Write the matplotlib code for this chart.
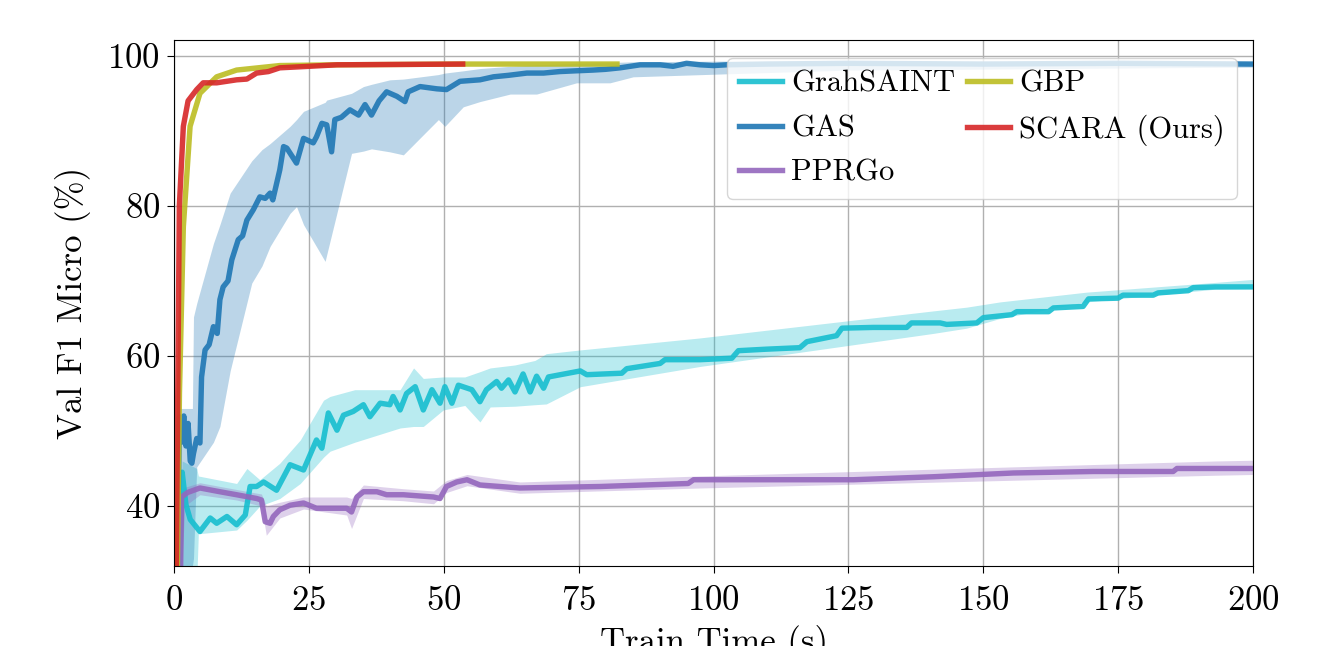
import numpy as np
import matplotlib
matplotlib.use("Agg")
import matplotlib.pyplot as plt

plt.rcParams['font.family'] = ['cmr10', 'DejaVu Serif']
plt.rcParams['axes.formatter.use_mathtext'] = True
plt.rcParams['mathtext.fontset'] = 'cm'

# ---- data (train time in s, val F1 micro in %) ----
saint_x = [1.0, 1.5, 2.2, 3.0, 4.8, 6.7, 7.9, 9.8, 11.6, 13.2, 14.1, 15.3, 16.6, 19.0, 21.5,
           24.0, 26.4, 27.4, 28.6, 30.2, 31.4, 33.2, 35.1, 36.3, 38.2, 40.0, 40.6, 41.9,
           43.1, 44.7, 46.2, 47.8, 49.3, 50.2, 51.5, 52.7, 55.2, 56.7, 57.9, 59.8, 60.7,
           62.0, 63.2, 64.7, 66.0, 67.2, 68.5, 69.4, 75.3, 76.5, 83.0, 83.9, 90.1, 91.0,
           97.5, 103.4, 104.6, 109.8, 116.0, 117.3, 122.8, 123.8, 129.6, 135.8, 136.7,
           142.0, 143.2, 148.8, 150.0, 155.3, 156.2, 162.1, 163.0, 168.5, 169.5, 175.0,
           175.9, 181.5, 182.4, 188.0, 188.9, 193.0, 200.0]
saint_y = [31.0, 44.5, 40.2, 38.2, 36.6, 38.4, 37.7, 38.6, 37.5, 38.8, 42.6, 42.6, 43.2, 42.1,
           45.5, 44.8, 48.8, 47.7, 52.4, 50.1, 52.1, 52.6, 53.5, 51.9, 53.7, 53.5, 54.6, 52.8,
           55.0, 55.9, 52.8, 55.5, 53.7, 55.9, 53.7, 56.1, 55.5, 53.9, 55.5, 56.6, 55.7,
           56.8, 55.2, 57.6, 55.2, 57.3, 55.7, 57.2, 58.0, 57.5, 57.7, 58.3, 59.0, 59.5,
           59.5, 59.7, 60.7, 60.9, 61.1, 61.9, 62.7, 63.7, 63.8, 63.8, 64.4,
           64.4, 64.2, 64.4, 65.1, 65.5, 65.9, 65.9, 66.4, 66.6, 67.6, 67.7,
           68.1, 68.1, 68.4, 68.7, 69.1, 69.2, 69.2]
saint_band_x = [0.8, 1.5, 4.2, 4.5, 11.6, 13.5, 15.9, 19.6, 23.4, 27.7, 28.9, 33.5, 41.9,
                44.4, 46.2, 49.9, 53.9, 56.7, 58.6, 63.2, 66.9, 69.0, 75.3, 97.5, 140.7,
                146.9, 153.1, 169.1, 193.0, 200.0]
saint_lo = [30.0, 30.0, 30.0, 36.3, 36.8, 38.1, 40.0, 41.0, 43.0, 46.5, 47.3, 48.5, 50.4,
            50.6, 50.6, 52.8, 53.4, 51.2, 53.2, 53.3, 53.5, 53.6, 55.9, 58.6, 63.0,
            63.7, 65.0, 67.2, 68.9, 69.0]
saint_hi = [33.0, 46.0, 45.0, 44.0, 43.0, 45.0, 43.5, 45.7, 48.8, 54.1, 54.6, 55.5, 55.5,
            58.4, 57.0, 57.2, 57.2, 57.9, 58.4, 58.8, 59.4, 60.3, 60.8, 62.4, 66.0,
            66.5, 67.2, 68.5, 69.8, 70.2]

gas_x = [0.6, 1.0, 1.4, 1.8, 2.2, 2.6, 3.0, 3.3, 3.6, 4.2, 4.8, 5.1, 5.75, 6.5, 7.3, 8.0,
         8.5, 9.1, 10.0, 10.7, 11.9, 12.7, 13.5, 14.7, 15.9, 16.9, 17.8, 18.3, 19.6, 20.3,
         20.9, 22.7, 24.0, 25.8, 26.4, 27.4, 28.3, 29.2, 29.8, 31.0, 32.6, 34.2, 35.4,
         36.6, 38.0, 39.4, 41.3, 42.8, 43.4, 45.6, 48.7, 50.5, 53.0, 56.7, 59.2, 62.0,
         65.4, 68.5, 71.5, 74.5, 77.7, 80.0, 82.7, 86.4, 90.1, 92.5, 95.0, 97.5, 100.0,
         102.4, 110.0, 125.0, 150.0, 175.0, 200.0]
gas_y = [31.0, 51.9, 48.5, 52.0, 48.0, 51.0, 46.0, 45.7, 47.0, 49.0, 48.4, 57.2, 60.8, 61.5,
         63.9, 63.0, 67.5, 69.2, 70.0, 72.8, 75.5, 76.0, 78.1, 79.5, 81.2, 81.0, 81.7, 80.8,
         84.8, 87.9, 87.7, 85.7, 89.0, 88.4, 89.2, 91.0, 90.8, 87.2, 91.5, 91.8, 92.8, 92.1,
         93.5, 92.1, 94.0, 95.2, 94.6, 93.9, 95.2, 95.9, 95.6, 95.5, 96.6, 96.8, 97.2, 97.4,
         97.7, 97.7, 97.9, 98.0, 98.1, 98.2, 98.4, 98.8, 98.8, 98.6, 99.0, 98.8, 98.7,
         98.8, 98.9, 99.0, 98.9, 99.0, 98.9]
gas_band_x = [0.5, 1.0, 3.4, 3.6, 4.2, 7.3, 8.5, 10.4, 14.4, 16.3, 17.8, 21.5, 22.7, 24.0,
              28.0, 28.3, 32.9, 35.1, 36.6, 40.0, 42.5, 49.0, 50.2, 53.6, 56.7, 62.3,
              67.2, 74.6, 80.8, 85.1, 102.4, 125.0, 200.0]
gas_lo = [30.0, 30.0, 32.0, 33.0, 45.2, 48.5, 50.6, 58.0, 69.7, 72.0, 74.6, 79.0, 79.9, 77.5,
          72.6, 73.5, 87.0, 87.3, 87.6, 87.2, 86.8, 91.5, 90.6, 93.2, 93.9, 94.9,
          94.9, 96.4, 96.4, 97.2, 97.6, 98.1, 98.5]
gas_hi = [33.0, 53.0, 53.0, 65.2, 67.0, 75.0, 77.5, 81.7, 86.0, 87.5, 88.3, 90.6, 91.5, 92.6,
          93.8, 94.1, 95.0, 95.9, 96.2, 96.8, 96.9, 97.5, 97.7, 98.0, 98.3, 98.6,
          98.8, 99.0, 99.1, 99.2, 99.3, 99.3, 99.2]

ppr_x = [1.2, 1.4, 2.5, 4.8, 8.5, 11.6, 15.3, 16.2, 16.9, 17.8, 18.4, 19.6, 21.5, 24.0, 26.4,
         30.2, 32.0, 32.9, 33.9, 35.1, 37.6, 39.4, 42.5, 48.1, 49.3, 50.5, 52.4, 54.3,
         56.7, 60.4, 64.1, 79.0, 95.3, 96.3, 111.1, 125.9, 140.8, 155.6, 170.4, 185.2,
         185.9, 200.0]
ppr_y = [31.0, 41.2, 41.8, 42.4, 41.9, 41.5, 41.0, 40.8, 37.9, 37.7, 38.6, 39.5, 40.1, 40.4,
         39.7, 39.7, 39.7, 39.2, 41.2, 41.9, 41.9, 41.5, 41.5, 41.2, 41.0, 42.6, 43.2, 43.5,
         42.8, 42.6, 42.4, 42.6, 43.0, 43.5, 43.5, 43.5, 43.9, 44.4, 44.6, 44.6,
         45.0, 45.0]
ppr_band_x = [0.8, 1.3, 2.0, 4.8, 11.6, 16.2, 17.1, 19.6, 24.0, 32.0, 32.9, 35.1, 42.5,
              48.1, 50.5, 54.3, 64.1, 97.5, 193.0, 200.0]
ppr_lo = [30.0, 30.0, 40.0, 41.5, 40.8, 40.0, 36.1, 38.4, 39.6, 38.8, 37.0, 41.0, 40.7,
          40.3, 41.8, 42.7, 41.7, 42.4, 44.1, 44.2]
ppr_hi = [33.0, 42.0, 42.5, 43.1, 42.2, 41.6, 40.0, 40.5, 41.2, 41.2, 41.0, 42.8, 42.3,
          42.0, 43.4, 44.2, 43.2, 44.0, 46.0, 46.1]

gbp_x = [0.6, 1.0, 1.72, 2.97, 4.8, 7.9, 11.6, 19.6, 30.0, 53.6, 82.1]
gbp_y = [31.0, 55.0, 77.2, 90.6, 95.0, 97.2, 98.1, 98.7, 98.8, 98.9, 98.9]

scara_x = [0.4, 0.98, 1.72, 2.6, 4.2, 5.4, 7.9, 11.6, 13.5, 15.3, 17.5, 19.6, 25.0, 30.2, 53.5]
scara_y = [31.0, 80.0, 90.6, 94.0, 95.5, 96.4, 96.4, 96.8, 96.9, 97.7, 97.9, 98.4, 98.6, 98.8, 98.9]

c_saint = '#17becf'
c_gas = '#1f77b4'
c_ppr = '#9467bd'
c_gbp = '#bcbd22'
c_scara = '#d62728'

fig = plt.figure(figsize=(13.42, 6.46), dpi=100)
ax = fig.add_axes([0.1297, 0.1238, 0.8040, 0.8142])

ax.fill_between(saint_band_x, saint_lo, saint_hi, color=c_saint, alpha=0.3, lw=0)
ax.fill_between(gas_band_x, gas_lo, gas_hi, color=c_gas, alpha=0.3, lw=0)
ax.fill_between(ppr_band_x, ppr_lo, ppr_hi, color=c_ppr, alpha=0.3, lw=0)

lw = 3.9
ax.plot(saint_x, saint_y, color=c_saint, lw=lw, alpha=0.9, label='GrahSAINT')
ax.plot(gas_x, gas_y, color=c_gas, lw=lw, alpha=0.9, label='GAS')
ax.plot(ppr_x, ppr_y, color=c_ppr, lw=lw, alpha=0.9, label='PPRGo')
ax.plot(gbp_x, gbp_y, color=c_gbp, lw=lw, alpha=0.9, label='GBP')
ax.plot(scara_x, scara_y, color=c_scara, lw=lw, alpha=0.9, label='SCARA (Ours)')

ax.set_xlim(0, 200)
ax.set_ylim(32, 102.1)
ax.set_xticks([0, 25, 50, 75, 100, 125, 150, 175, 200])
ax.set_yticks([40, 60, 80, 100])
ax.grid(True, color='#b0b0b0', lw=1.0)
ax.set_axisbelow(True)
ax.tick_params(labelsize=25, length=5)
ax.tick_params(axis='x', pad=9)
ax.tick_params(axis='y', pad=5)
ax.set_xlabel('Train Time (s)', fontsize=25, labelpad=6)
ax.set_ylabel('Val F1 Micro (%)', fontsize=25, labelpad=12)

ax.legend(loc='upper right', ncol=2, fontsize=22, handlelength=1.4,
          handletextpad=0.3, columnspacing=0.4, labelspacing=0.56,
          bbox_to_anchor=(0.9852, 0.9658), borderaxespad=0, framealpha=0.8)

fig.savefig('out.png', dpi=100)
